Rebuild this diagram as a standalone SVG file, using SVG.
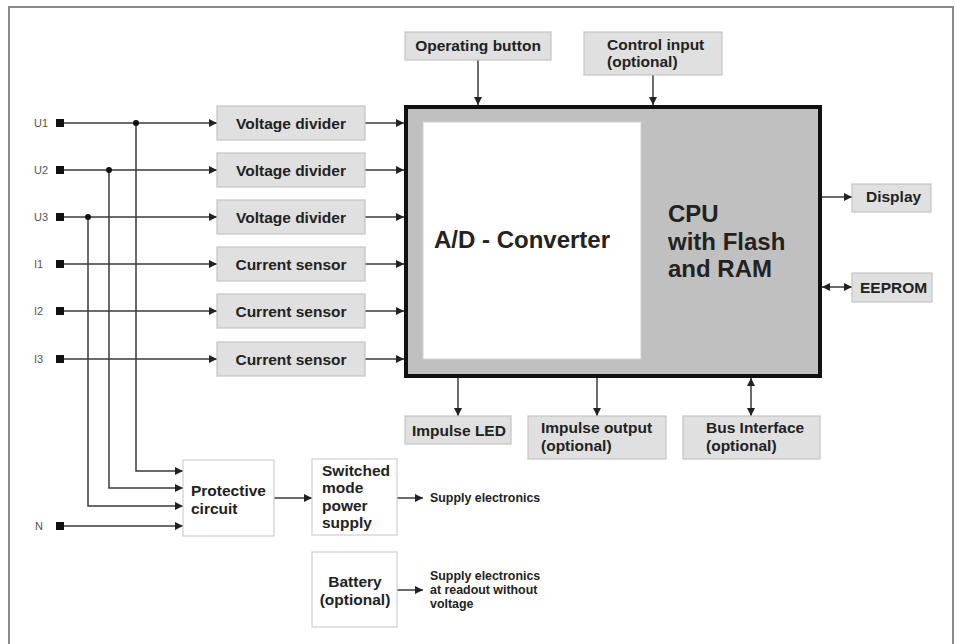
<svg xmlns="http://www.w3.org/2000/svg" width="955" height="644" viewBox="0 0 955 644">
  <defs>
    <marker id="arr" markerUnits="userSpaceOnUse" markerWidth="9" markerHeight="8" refX="8" refY="4" orient="auto">
      <path d="M0,0 L8,4 L0,8 Z" fill="#222"/>
    </marker>
    <marker id="arrStart" markerUnits="userSpaceOnUse" markerWidth="9" markerHeight="8" refX="0" refY="4" orient="auto">
      <path d="M8,0 L0,4 L8,8 Z" fill="#222"/>
    </marker>
  </defs>
  <style>
    .frame { fill: none; stroke: #8a8a8a; stroke-width: 2; }
    .box { fill: #e0e0e0; stroke: #c4c4c4; stroke-width: 1.2; }
    .wbox { fill: #ffffff; stroke: #cfcfcf; stroke-width: 1.2; }
    .wire { fill: none; stroke: #3a3a3a; stroke-width: 1.5; }
    .arrow { fill: none; stroke: #3a3a3a; stroke-width: 1.5; marker-end: url(#arr); }
    .both { fill: none; stroke: #3a3a3a; stroke-width: 1.5; marker-end: url(#arr); marker-start: url(#arrStart); }
    .lbl { font-family: "Liberation Sans", Arial, sans-serif; font-weight: bold; font-size: 15.5px; fill: #222; }
    .mid { text-anchor: middle; }
    .big { font-family: "Liberation Sans", Arial, sans-serif; font-weight: bold; font-size: 24px; fill: #222; }
    .small { font-family: "Liberation Sans", Arial, sans-serif; font-weight: bold; font-size: 12.4px; fill: #222; }
    .term { font-family: "Liberation Sans", Arial, sans-serif; font-size: 11px; fill: #555; }
    .pad { fill: #111; }
  </style>

  <!-- outer frame (open at the bottom) -->
  <path class="frame" d="M9,644 V7 H953 V644"/>

  <!-- connectors -->
  <g id="connectors">
    <!-- measurement inputs to conditioning blocks -->
    <line class="arrow" x1="64" y1="123" x2="217" y2="123"/>
    <line class="arrow" x1="64" y1="170" x2="217" y2="170"/>
    <line class="arrow" x1="64" y1="217" x2="217" y2="217"/>
    <line class="arrow" x1="64" y1="264" x2="217" y2="264"/>
    <line class="arrow" x1="64" y1="311" x2="217" y2="311"/>
    <line class="arrow" x1="64" y1="359" x2="217" y2="359"/>
    <!-- conditioning blocks to converter -->
    <line class="arrow" x1="365" y1="123" x2="404" y2="123"/>
    <line class="arrow" x1="365" y1="170" x2="404" y2="170"/>
    <line class="arrow" x1="365" y1="217" x2="404" y2="217"/>
    <line class="arrow" x1="365" y1="264" x2="404" y2="264"/>
    <line class="arrow" x1="365" y1="311" x2="404" y2="311"/>
    <line class="arrow" x1="365" y1="359" x2="404" y2="359"/>
    <!-- phase taps to protective circuit -->
    <path class="arrow" d="M136,123 V471 H183"/>
    <path class="arrow" d="M109,170 V488 H183"/>
    <path class="arrow" d="M88,217 V506 H183"/>
    <line class="arrow" x1="64" y1="526" x2="183" y2="526"/>
    <circle cx="136" cy="123" r="3" fill="#111"/>
    <circle cx="109" cy="170" r="3" fill="#111"/>
    <circle cx="88" cy="217" r="3" fill="#111"/>
    <!-- top inputs -->
    <line class="arrow" x1="478" y1="60" x2="478" y2="105"/>
    <line class="arrow" x1="653" y1="75" x2="653" y2="105"/>
    <!-- right side -->
    <line class="arrow" x1="822" y1="197" x2="852" y2="197"/>
    <line class="both" x1="822" y1="287" x2="852" y2="287"/>
    <!-- bottom outputs -->
    <line class="arrow" x1="458" y1="378" x2="458" y2="416"/>
    <line class="arrow" x1="597" y1="378" x2="597" y2="416"/>
    <line class="both" x1="751" y1="378" x2="751" y2="416"/>
    <!-- power path -->
    <line class="arrow" x1="274" y1="498" x2="312" y2="498"/>
    <line class="arrow" x1="397" y1="498" x2="423" y2="498"/>
    <line class="arrow" x1="397" y1="590" x2="423" y2="590"/>
  </g>

  <!-- input terminals -->
  <g id="terminals">
    <text class="term" x="34" y="127">U1</text>
    <rect class="pad" x="56" y="119" width="8" height="8"/>
    <text class="term" x="34" y="174">U2</text>
    <rect class="pad" x="56" y="166" width="8" height="8"/>
    <text class="term" x="34" y="221">U3</text>
    <rect class="pad" x="56" y="213" width="8" height="8"/>
    <text class="term" x="34" y="268">I1</text>
    <rect class="pad" x="56" y="260" width="8" height="8"/>
    <text class="term" x="34" y="315">I2</text>
    <rect class="pad" x="56" y="307" width="8" height="8"/>
    <text class="term" x="34" y="363">I3</text>
    <rect class="pad" x="56" y="355" width="8" height="8"/>
    <text class="term" x="35" y="530">N</text>
    <rect class="pad" x="56" y="522" width="8" height="8"/>
  </g>

  <g id="vdiv1"><rect class="box" x="217" y="106" width="148" height="34"/><text class="lbl mid" x="291" y="129">Voltage divider</text></g>
  <g id="vdiv2"><rect class="box" x="217" y="153" width="148" height="34"/><text class="lbl mid" x="291" y="176">Voltage divider</text></g>
  <g id="vdiv3"><rect class="box" x="217" y="200" width="148" height="34"/><text class="lbl mid" x="291" y="223">Voltage divider</text></g>
  <g id="csens1"><rect class="box" x="217" y="247" width="148" height="34"/><text class="lbl mid" x="291" y="270">Current sensor</text></g>
  <g id="csens2"><rect class="box" x="217" y="294" width="148" height="34"/><text class="lbl mid" x="291" y="317">Current sensor</text></g>
  <g id="csens3"><rect class="box" x="217" y="342" width="148" height="34"/><text class="lbl mid" x="291" y="365">Current sensor</text></g>

  <g id="cpu">
    <rect x="406" y="107" width="414" height="269" fill="#c0c0c0" stroke="#111" stroke-width="4"/>
    <text class="big" x="668" y="222">CPU</text>
    <text class="big" x="668" y="250">with Flash</text>
    <text class="big" x="668" y="277">and RAM</text>
  </g>
  <g id="adc">
    <rect x="423" y="122" width="218" height="237" fill="#ffffff" stroke="#d0d0d0" stroke-width="1"/>
    <text class="big" x="434" y="248">A/D - Converter</text>
  </g>

  <g id="opbutton"><rect class="box" x="405" y="32" width="146" height="28"/><text class="lbl mid" x="478" y="51">Operating button</text></g>
  <g id="ctrlin"><rect class="box" x="584" y="32" width="138" height="43"/><text class="lbl" x="607" y="50">Control input</text><text class="lbl" x="607" y="67">(optional)</text></g>
  <g id="display"><rect class="box" x="852" y="184" width="79" height="28"/><text class="lbl" x="866" y="202">Display</text></g>
  <g id="eeprom"><rect class="box" x="852" y="273" width="80" height="29"/><text class="lbl" x="860" y="293">EEPROM</text></g>
  <g id="impled"><rect class="box" x="405" y="416" width="106" height="28"/><text class="lbl" x="412" y="436">Impulse LED</text></g>
  <g id="impout"><rect class="box" x="528" y="416" width="138" height="43"/><text class="lbl" x="541" y="433">Impulse output</text><text class="lbl" x="541" y="451">(optional)</text></g>
  <g id="bus"><rect class="box" x="683" y="416" width="137" height="43"/><text class="lbl" x="706" y="433">Bus Interface</text><text class="lbl" x="706" y="451">(optional)</text></g>

  <g id="protect"><rect class="wbox" x="183" y="460" width="91" height="76"/><text class="lbl" x="191" y="496">Protective</text><text class="lbl" x="191" y="514">circuit</text></g>
  <g id="smps"><rect class="wbox" x="312" y="459" width="85" height="76"/>
    <text class="lbl" x="322" y="476">Switched</text><text class="lbl" x="322" y="493">mode</text><text class="lbl" x="322" y="511">power</text><text class="lbl" x="322" y="528">supply</text></g>
  <g id="battery"><rect class="wbox" x="312" y="552" width="85" height="75"/>
    <text class="lbl mid" x="355" y="587">Battery</text><text class="lbl mid" x="355" y="605">(optional)</text></g>

  <g id="supply1"><text class="small" x="430" y="502">Supply electronics</text></g>
  <g id="supply2"><text class="small" x="430" y="580">Supply electronics</text><text class="small" x="430" y="594">at readout without</text><text class="small" x="430" y="608">voltage</text></g>
</svg>
